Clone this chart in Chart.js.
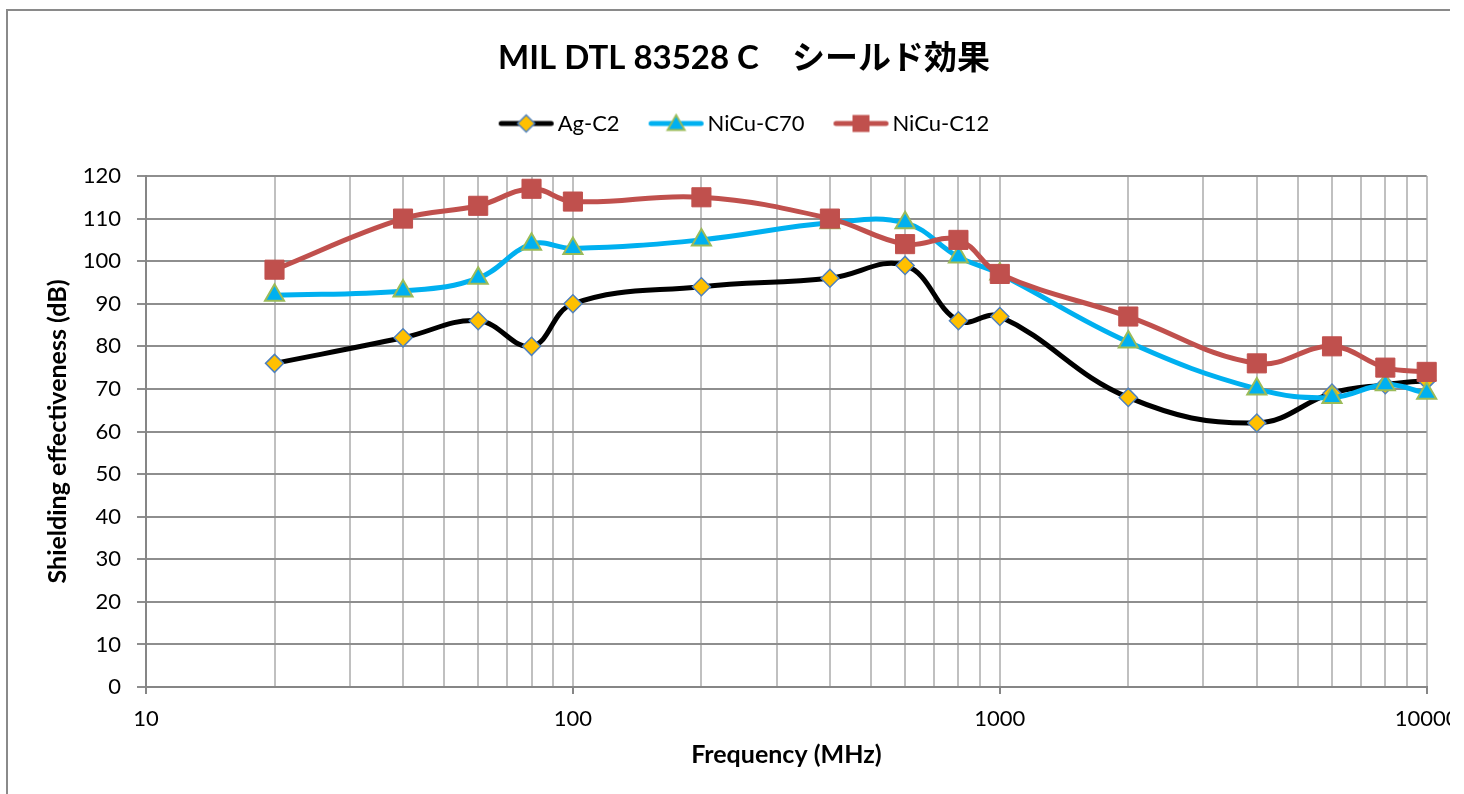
<!DOCTYPE html>
<html>
<head>
<meta charset="utf-8">
<script src="https://cdn.jsdelivr.net/npm/chart.js@4/dist/chart.umd.min.js"></script>
<style>
  html, body { margin: 0; padding: 0; background: #fff; overflow: hidden; }
  #wrap { position: absolute; left: 0; top: 0; width: 1450px; height: 794px; overflow: hidden; background: #fff; }
  #frame { position: absolute; left: 6px; top: 9px; width: 2000px; height: 2000px; border-left: 2px solid #8a8a8a; border-top: 2px solid #8a8a8a; }
  #holder { position: absolute; left: 0; top: 0; width: 1488px; height: 794px; }
</style>
</head>
<body>
<div id="wrap">
  <div id="frame"></div>
  <div id="holder"><canvas id="c" width="1488" height="794"></canvas></div>
</div>
<script>
// ---- data ----
const freqMHz  = [20, 40, 60, 80, 100, 200, 400, 600, 800, 1000, 2000, 4000, 6000, 8000, 10000];
const agC2     = [76, 82, 86, 80, 90, 94, 96, 99, 86, 87, 68, 62, 69, 71, 72];
const nicuC70  = [92, 93, 96, 104, 103, 105, 109, 109, 101, 97, 81, 70, 68, 71, 69];
const nicuC12  = [98, 110, 113, 117, 114, 115, 110, 104, 105, 97, 87, 76, 80, 75, 74];
const seriesNames = ['Ag-C2', 'NiCu-C70', 'NiCu-C12'];
const titleText = 'MIL DTL 83528 C\u3000シールド効果';
const xTitle = 'Frequency (MHz)';
const yTitle = 'Shielding effectiveness (dB)';
const xDecades = [10, 100, 1000];
const xMultipliers = [1, 2, 3, 4, 5, 6, 7, 8, 9];
const xMax = 10000;
const xTickLabels = ['10', '100', '1000', '10000'];
const yMin = 0, yMax = 120, yStep = 10;

const xGrid = [];
xDecades.forEach(d => xMultipliers.forEach(m => xGrid.push(d * m)));
xGrid.push(xMax);

const toPts = arr => freqMHz.map((f, i) => ({x: f, y: arr[i]}));

// ---- legend images (line + marker) ----
function diamond(g, x, y, r) { g.beginPath(); g.moveTo(x - r, y); g.lineTo(x, y - r); g.lineTo(x + r, y); g.lineTo(x, y + r); g.closePath(); }
function triangle(g, x, y, r) {
  g.beginPath();
  for (let k = 0; k < 3; k++) { const a = k * 2 * Math.PI / 3; const px = x + Math.sin(a) * r, py = y - Math.cos(a) * r; k ? g.lineTo(px, py) : g.moveTo(px, py); }
  g.closePath();
}
function legendImg(lineColor, marker) {
  const c = document.createElement('canvas'); c.width = 64; c.height = 30;
  const g = c.getContext('2d');
  g.strokeStyle = lineColor; g.lineWidth = 5; g.lineCap = 'round';
  g.beginPath(); g.moveTo(10.5, 15); g.lineTo(60.5, 15); g.stroke();
  marker(g, 35.5, 15);
  return c;
}
const legImgs = [
  legendImg('#000000', (g, x, y) => { diamond(g, x, y, 8.5); g.fillStyle = '#FFC000'; g.fill(); g.lineWidth = 1.5; g.strokeStyle = '#4F81BD'; g.stroke(); }),
  legendImg('#00B0F0', (g, x, y) => { triangle(g, x, y + 1.5, 10); g.fillStyle = '#00B0F0'; g.fill(); g.lineWidth = 1.8; g.strokeStyle = '#9BBB59'; g.stroke(); }),
  legendImg('#C0504D', (g, x, y) => { g.fillStyle = '#C0504D'; g.fillRect(x - 8.5, y - 8.5, 17, 17); })
];

const FONT = "Lato, 'Noto Sans CJK JP', sans-serif";
Chart.defaults.font.family = FONT;
Chart.defaults.color = '#000';

const isMajor = v => Math.abs(Math.log10(v) - Math.round(Math.log10(v))) < 1e-9;

new Chart(document.getElementById('c'), {
  type: 'scatter',
  data: {
    datasets: [
      { label: seriesNames[0], data: toPts(agC2), showLine: true, order: 3, clip: false,
        borderColor: '#000000', borderWidth: 5, tension: 0.4,
        pointStyle: 'rectRot', pointRadius: 9, pointBackgroundColor: '#FFC000', pointBorderColor: '#4F81BD', pointBorderWidth: 1.5 },
      { label: seriesNames[1], data: toPts(nicuC70), showLine: true, order: 2, clip: false,
        borderColor: '#00B0F0', borderWidth: 5, tension: 0.4,
        pointStyle: 'triangle', pointRadius: 11, pointBackgroundColor: '#00B0F0', pointBorderColor: '#9BBB59', pointBorderWidth: 2 },
      { label: seriesNames[2], data: toPts(nicuC12), showLine: true, order: 1, clip: false,
        borderColor: '#C0504D', borderWidth: 5, tension: 0.4,
        pointStyle: 'rect', pointRadius: 13.5, pointBackgroundColor: '#C0504D', pointBorderColor: '#C0504D', pointBorderWidth: 1 }
    ]
  },
  options: {
    responsive: false,
    devicePixelRatio: 1,
    animation: false,
    events: [],
    layout: { padding: 0 },
    plugins: {
      title: {
        display: true, text: titleText,
        font: { size: 33, weight: 'bold', family: FONT },
        color: '#000',
        padding: { top: 37.9, bottom: 5.4 }
      },
      subtitle: {
        // empty spacer between legend and plot area
        display: true, text: '', weight: 500,
        font: { size: 10, family: FONT },
        padding: { top: 19.5, bottom: 0 }
      },
      legend: {
        display: true, position: 'top',
        labels: {
          usePointStyle: true, pointStyleWidth: 48, padding: 29,
          font: { size: 22, family: FONT }, color: '#000',
          generateLabels: chart => chart.data.datasets.map((ds, i) => ({
            text: ds.label, pointStyle: legImgs[i], datasetIndex: i, hidden: false,
            lineWidth: 0, strokeStyle: 'rgba(0,0,0,0)', fillStyle: 'rgba(0,0,0,0)', fontColor: '#000'
          }))
        }
      },
      tooltip: { enabled: false }
    },
    scales: {
      x: {
        type: 'logarithmic', min: 10, max: xMax,
        afterBuildTicks: s => { s.ticks = xGrid.map(v => ({value: v, major: isMajor(v)})); },
        afterFit: s => { s.height = 107; s.paddingRight = 1488 - 1426.7; },
        ticks: {
          autoSkip: false, maxRotation: 0, minRotation: 0, padding: 12,
          font: { size: 22, family: FONT }, color: '#000',
          callback: v => xTickLabels.includes(String(v)) ? String(v) : ''
        },
        grid: {
          color: '#c0c0c0', lineWidth: 2, tickLength: 7,
          tickColor: c => (c.tick && isMajor(c.tick.value)) ? '#868686' : 'rgba(0,0,0,0)'
        },
        border: { color: '#868686', width: 2 },
        title: { display: true, text: xTitle, font: { size: 25, weight: 'bold', family: FONT }, color: '#000', padding: { top: 0, bottom: 23.7 } }
      },
      y: {
        type: 'linear', min: yMin, max: yMax,
        afterFit: s => { s.width = 146; s.paddingTop = 176; },
        ticks: { stepSize: yStep, padding: 16, font: { size: 22, family: FONT }, color: '#000' },
        grid: { color: '#8e8e8e', lineWidth: 2, tickLength: 9, tickColor: '#8e8e8e' },
        border: { color: '#868686', width: 2 },
        title: { display: true, text: yTitle, font: { size: 25, weight: 'bold', family: FONT }, color: '#000', padding: { top: 43, bottom: 0 } }
      }
    }
  }
});
</script>
</body>
</html>
